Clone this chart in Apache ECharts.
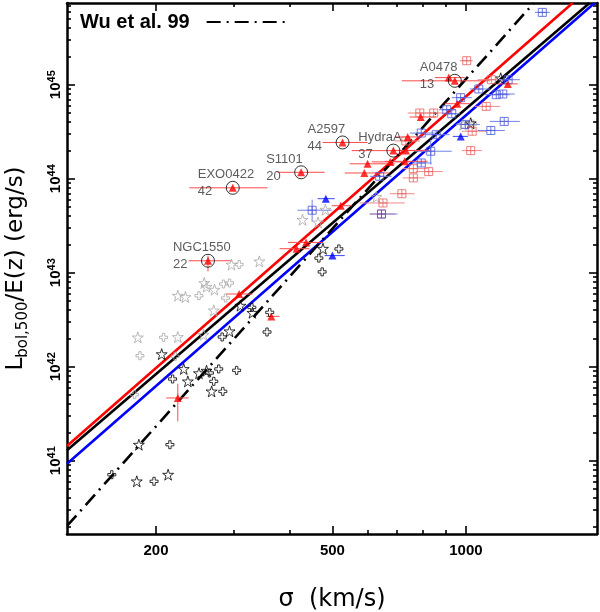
<!DOCTYPE html>
<html><head><meta charset="utf-8">
<script src="https://cdn.jsdelivr.net/npm/echarts@6/dist/echarts.min.js"></script>
<style>html,body{margin:0;padding:0;background:#fff}#c{width:600px;height:612px}</style>
</head><body><div id="c"></div>
<script>
// ---------- axes ----------
const X_MIN = 126, X_MAX = 1975;          // sigma (km/s)
const Y_MIN = 1.66e40, Y_MAX = 7.4e45;    // L (erg/s)
const xMajorTicks = [200, 500, 1000];
const xMinorTicks = [300, 400, 600, 700, 800, 900];
const yMajorTicks = [1e41, 1e42, 1e43, 1e44, 1e45];
const yMinorMantissa = [2, 3, 4, 5, 6, 7, 8, 9];
const yDecades = [40, 41, 42, 43, 44, 45];

// ---------- red filled triangles ----------
const redTriSigma = [944, 915, 1243, 956, 791, 739, 527, 686, 732, 728, 675, 600, 590, 425, 298, 522, 436, 415, 262, 308, 364, 224];
const redTriL     = [1.10e45, 1.19e45, 1.02e45, 6.28e44, 4.53e44, 2.78e44, 2.43e44, 1.99e44, 2.0e44, 1.53e44, 1.51e44, 1.44e44, 1.15e44, 1.17e44, 8.0e43, 5.16e43, 2.1e43, 1.8e43, 1.34e43, 5.93e42, 3.43e42, 4.65e41];
const redTriSigLo = [717, 851, 1174, 896, 747, 691, 475, 553, 680, 656, 613, 547, 533, 376, 238, 498, 397, 380, 237, 288, 355, 211];
const redTriSigHi = [1132, 994, 1309, 1020, 855, 795, 600, 807, 829, 820, 747, 691, 673, 480, 357, 553, 476, 444, 296, 330, 380, 237];
const redTriVErr  = [[18, 1.03e43, 1.52e43], [21, 2.62e41, 6.59e41]];

// ---------- blue filled triangles ----------
const blueTriSigma = [973, 483, 500];
const blueTriL     = [2.82e44, 6.13e43, 1.52e43];
const blueTriSigLo = [934, 463, 480];
const blueTriSigHi = [1010, 506, 533];

// ---------- red open squares ----------
const redSqSigma = [1004, 1141, 1111, 787, 846, 1033, 1025, 761, 761, 824, 717, 650, 645, 732];
const redSqL     = [1.8e45, 1.13e45, 5.88e44, 5.0e44, 5.0e44, 3.2e44, 1.99e44, 1.28e44, 1.02e44, 1.19e44, 6.92e43, 5.52e43, 4.21e43, 2.52e44];
const redSqSigLo = [968, 1063, 1047, 739, 807, 979, 979, 720, 720, 771, 673, 576, 607, 691];
const redSqSigHi = [1036, 1224, 1193, 837, 896, 1115, 1086, 820, 807, 887, 766, 728, 691, 787];

// ---------- blue open squares ----------
const blueSqSigma = [1487, 1245, 1069, 973, 1171, 1211, 905, 929, 996, 1138, 1220, 793, 857, 833, 793, 639, 450, 645];
const blueSqL     = [5.88e45, 1.13e45, 9.0e44, 7.28e44, 7.83e44, 7.96e44, 5.42e44, 4.91e44, 3.78e44, 3.26e44, 4.07e44, 3.06e44, 2.94e44, 1.96e44, 1.47e44, 1.06e44, 4.62e43, 4.21e43];
const blueSqSigLo = [1430, 1180, 1020, 929, 1103, 1162, 869, 896, 949, 1063, 1132, 747, 807, 766, 755, 607, 417, 607];
const blueSqSigHi = [1546, 1323, 1132, 1031, 1256, 1289, 949, 969, 1075, 1224, 1323, 851, 919, 929, 837, 680, 498, 701];
const blueSqVErr  = [[13, 1.41e44, 2.6e44], [16, 3.49e43, 5.98e43]];

// ---------- black open stars / crosses ----------
const blackStarSigma = [1198, 1025, 476, 310, 330, 293, 206, 231, 250, 260, 236, 267, 183, 181, 213];
const blackStarL     = [1.17e45, 3.89e44, 1.8e43, 4.46e42, 3.75e42, 2.38e42, 1.36e42, 9.46e41, 8.53e41, 9.07e41, 6.98e41, 5.46e41, 1.48e41, 6.03e40, 7.1e40];
const blackCrossSigma = [517, 466, 474, 329, 356, 282, 361, 218, 264, 277, 270, 283, 304, 215, 198, 159];
const blackCrossL     = [1.79e43, 1.43e43, 1.02e43, 4.27e42, 2.34e42, 2.07e42, 3.78e42, 7.4e41, 8.57e41, 9.46e41, 6.98e41, 5.46e41, 9.14e41, 1.48e41, 6.03e40, 7.1e40];

// ---------- grey open stars / crosses ----------
const greyStarSigma = [428, 482, 464, 628, 342, 296, 257, 260, 271, 224, 233, 270, 182, 224, 256, 985];
const greyStarL     = [3.66e43, 4.68e43, 3.43e43, 6.39e43, 1.32e43, 1.22e43, 7.77e42, 7.1e42, 6.6e42, 5.69e42, 5.51e42, 3.97e42, 2.05e42, 2.07e42, 2.19e42, 3.75e44];
const greyCrossSigma = [308, 284, 293, 250, 287, 208, 184, 221, 179, 1035];
const greyCrossL     = [1.22e43, 7.58e42, 7.77e42, 5.69e42, 5.38e42, 2.05e42, 1.31e42, 1.29e42, 5.04e41, 3.82e44];

// ---------- labelled clusters ----------
const labelNames = ['A0478', 'A2597', 'HydraA', 'S1101', 'EXO0422', 'NGC1550'];
const labelNums  = ['13', '44', '37', '20', '42', '22'];
const labelSigma = [944, 527, 686, 425, 298, 262];
const labelL     = [1.10e45, 2.43e44, 1.99e44, 1.17e44, 8.0e43, 1.34e43];

// ---------- fitted relations (end points) ----------
const fitRed   = [[126, 1.43e41], [1740, 7.4e45]];
const fitBlack = [[126, 1.29e41], [1900, 7.4e45]];
const fitBlue  = [[126, 9.3e40], [1950, 7.4e45]];
const wu99     = [[126, 2.02e40], [1423, 7.4e45]];

// ---------- build ----------
const yMinorTicks = [];
yDecades.forEach(d => yMinorMantissa.forEach(m => { const v = m * Math.pow(10, d); if (v > Y_MIN && v < Y_MAX) yMinorTicks.push(v); }));

const pts = (s, l) => s.map((v, i) => [v, l[i]]);
function errData(s, l, lo, hi, verr) {
  const d = s.map((v, i) => [v, l[i], lo[i], hi[i], l[i], l[i]]);
  (verr || []).forEach(e => { d[e[0]][4] = e[1]; d[e[0]][5] = e[2]; });
  return d;
}
function errRender(color) {
  return function (params, api) {
    const L = api.value(1);
    const a = api.coord([api.value(2), L]);
    const b = api.coord([api.value(3), L]);
    const c = api.coord([api.value(0), api.value(4)]);
    const d = api.coord([api.value(0), api.value(5)]);
    const st = { stroke: color, lineWidth: 1 };
    return { type: 'group', children: [
      { type: 'line', shape: { x1: a[0], y1: a[1], x2: b[0], y2: b[1] }, style: st },
      { type: 'line', shape: { x1: c[0], y1: c[1], x2: d[0], y2: d[1] }, style: st }
    ] };
  };
}

const STAR = 'path://M50,2 L61,36 L97,36 L68,57 L79,92 L50,71 L21,92 L32,57 L3,36 L39,36 Z';
const CROSS = 'path://M35,0 H65 V35 H100 V65 H65 V100 H35 V65 H0 V35 H35 Z';
const SQPLUS = 'path://M0,0 H100 V100 H0 Z M50,0 V100 M0,50 H100';

function xAxisDef(pos, ticks, len, showLine, showLabel) {
  return {
    type: 'log', logBase: 10, min: X_MIN, max: X_MAX, position: pos,
    splitLine: { show: false }, minorTick: { show: false },
    axisLine: { show: showLine, onZero: false, lineStyle: { color: '#000', width: 2.5 } },
    axisTick: { show: true, inside: true, length: len, customValues: ticks, lineStyle: { color: '#000', width: 1.6 } },
    axisLabel: showLabel ? {
      show: true, customValues: ticks, margin: 9,
      fontFamily: 'Liberation Sans', fontWeight: 'bold', fontSize: 15, color: '#000',
      formatter: v => String(Math.round(v))
    } : { show: false },
    name: showLabel ? 'σ  (km/s)' : '', nameLocation: 'middle', nameGap: 54,
    nameTextStyle: { fontFamily: 'DejaVu Sans', fontSize: 24, color: '#000' }
  };
}
function yAxisDef(pos, ticks, len, showLine, showLabel) {
  return {
    type: 'log', logBase: 10, min: Y_MIN, max: Y_MAX, position: pos,
    splitLine: { show: false }, minorTick: { show: false },
    axisLine: { show: showLine, onZero: false, lineStyle: { color: '#000', width: 2.5 } },
    axisTick: { show: true, inside: true, length: len, customValues: ticks, lineStyle: { color: '#000', width: 1.6 } },
    axisLabel: showLabel ? {
      show: true, customValues: ticks, rotate: 90, margin: 1,
      formatter: v => '{b|10}{e|' + Math.round(Math.log10(v)) + '}',
      rich: {
        b: { fontFamily: 'Liberation Sans', fontWeight: 'bold', fontSize: 15, color: '#000', lineHeight: 20, verticalAlign: 'middle' },
        e: { fontFamily: 'Liberation Sans', fontWeight: 'bold', fontSize: 11, color: '#000', lineHeight: 10, verticalAlign: 'top' }
      }
    } : { show: false },
    name: showLabel ? '{m|L}{s|bol,500}{m|/E(z) (erg/s)}' : '', nameLocation: 'middle', nameRotate: 90, nameGap: 36,
    nameTextStyle: { rich: {
      m: { fontFamily: 'DejaVu Sans', fontSize: 23, color: '#000', lineHeight: 30, verticalAlign: 'middle' },
      s: { fontFamily: 'DejaVu Sans', fontSize: 15, color: '#000', lineHeight: 15, verticalAlign: 'bottom' }
    } }
  };
}

const lineS = (name, data, color, type) => ({
  type: 'line', name, data, symbol: 'none', showSymbol: false, silent: true, z: 2, animation: false,
  itemStyle: { color },
  lineStyle: { color, width: 2.6, type: type || 'solid', cap: 'butt' }
});
const scat = (name, data, symbol, size, color, filled, z) => ({
  type: 'scatter', name, data, symbol, symbolSize: size, silent: true, z,
  itemStyle: filled ? { color } : { color: 'rgba(0,0,0,0)', borderColor: color, borderWidth: 1 }
});

const option = {
  animation: false,
  textStyle: { fontFamily: 'Liberation Sans' },
  grid: { left: 67, right: 3, top: 3, bottom: 78, containLabel: false, outerBoundsMode: 'none' },
  xAxis: [
    xAxisDef('bottom', xMajorTicks, 8, true, true),
    xAxisDef('bottom', xMinorTicks, 4, false, false),
    xAxisDef('top', xMajorTicks, 8, true, false),
    xAxisDef('top', xMinorTicks, 4, false, false)
  ],
  yAxis: [
    yAxisDef('left', yMajorTicks, 8, true, true),
    yAxisDef('left', yMinorTicks, 4, false, false),
    yAxisDef('right', yMajorTicks, 8, true, false),
    yAxisDef('right', yMinorTicks, 4, false, false)
  ],
  legend: {
    show: true, data: [{ name: 'Wu et al. 99' }], left: 80, top: 12, padding: 0,
    align: 'right', itemWidth: 84, itemHeight: 14, selectedMode: false,
    itemStyle: { opacity: 0 },
    textStyle: { fontFamily: 'Liberation Sans', fontWeight: 'bold', fontSize: 20, color: '#000', padding: [0, 12, 0, 0] }
  },
  series: [
    lineS('fitRed', fitRed, '#ff0000'),
    lineS('fitBlack', fitBlack, '#000000'),
    lineS('fitBlue', fitBlue, '#0000ff'),
    lineS('Wu et al. 99', wu99, '#000000', [14, 6, 2, 6]),
    { type: 'custom', name: 'errRedSq', clip: true, silent: true, z: 3, encode: { x: 0, y: 1 },
      renderItem: errRender('#f08a8a'), data: errData(redSqSigma, redSqL, redSqSigLo, redSqSigHi) },
    { type: 'custom', name: 'errBlueSq', clip: true, silent: true, z: 3, encode: { x: 0, y: 1 },
      renderItem: errRender('#7482e8'), data: errData(blueSqSigma, blueSqL, blueSqSigLo, blueSqSigHi, blueSqVErr) },
    { type: 'custom', name: 'errRedTri', clip: true, silent: true, z: 3, encode: { x: 0, y: 1 },
      renderItem: errRender('#ff4a4a'), data: errData(redTriSigma, redTriL, redTriSigLo, redTriSigHi, redTriVErr) },
    { type: 'custom', name: 'errBlueTri', clip: true, silent: true, z: 3, encode: { x: 0, y: 1 },
      renderItem: errRender('#3848ff'), data: errData(blueTriSigma, blueTriL, blueTriSigLo, blueTriSigHi) },
    scat('greyStar', pts(greyStarSigma, greyStarL), STAR, 11, '#a8a8a8', false, 4),
    scat('greyCross', pts(greyCrossSigma, greyCrossL), CROSS, 8, '#a8a8a8', false, 4),
    scat('blackStar', pts(blackStarSigma, blackStarL), STAR, 11, '#000000', false, 4),
    scat('blackCross', pts(blackCrossSigma, blackCrossL), CROSS, 8, '#000000', false, 4),
    scat('redSq', pts(redSqSigma, redSqL), SQPLUS, 8, '#e86060', false, 5),
    scat('blueSq', pts(blueSqSigma, blueSqL), SQPLUS, 8, '#4a58d8', false, 5),
    scat('blueTri', pts(blueTriSigma, blueTriL), 'triangle', 8, '#0000ff', true, 6),
    scat('redTri', pts(redTriSigma, redTriL), 'triangle', 8, '#ff0000', true, 6),
    {
      type: 'scatter', name: 'labelled', data: pts(labelSigma, labelL), symbol: 'circle', symbolSize: 13,
      silent: true, z: 7,
      itemStyle: { color: 'rgba(0,0,0,0)', borderColor: '#000', borderWidth: 1 },
      label: {
        show: true, position: 'inside', offset: [-35, -4.5], align: 'left', verticalAlign: 'middle',
        fontFamily: 'Liberation Sans', fontSize: 13, color: '#333', lineHeight: 17,
        formatter: p => labelNames[p.dataIndex] + '\n' + labelNums[p.dataIndex]
      }
    }
  ]
};

const chart = echarts.init(document.getElementById('c'), null, { renderer: 'canvas' });
chart.setOption(option);
</script></body></html>
